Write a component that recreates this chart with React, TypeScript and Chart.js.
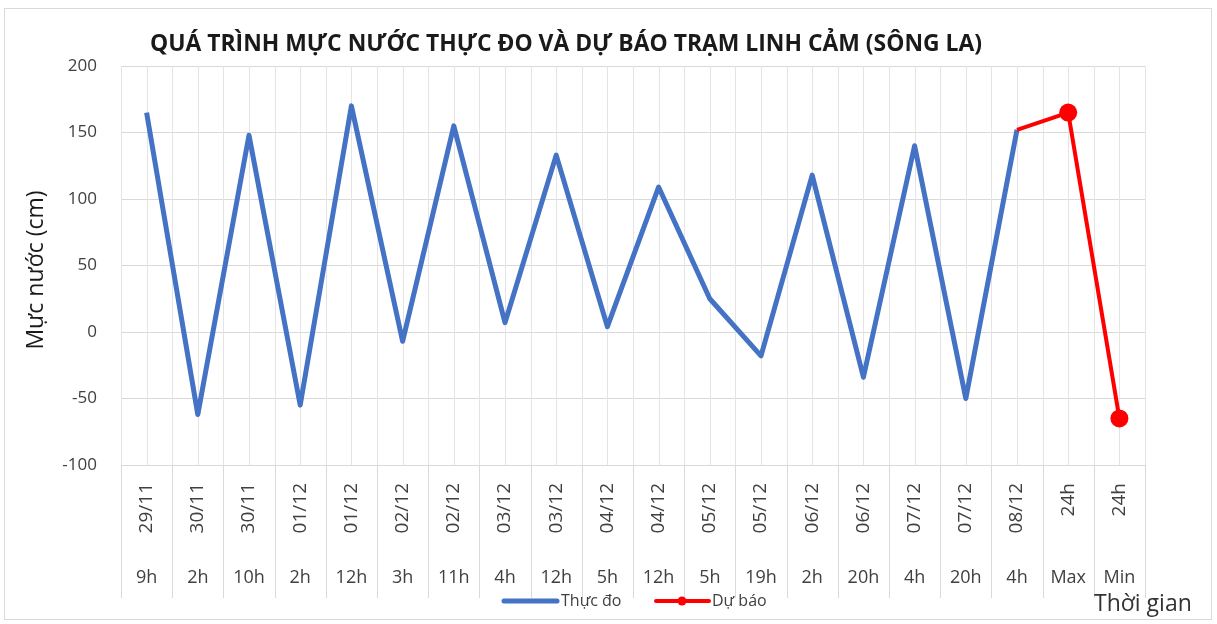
import { useEffect, useRef } from 'react';
import { Chart, registerables } from 'chart.js';

Chart.register(...registerables);

const chartTitle = 'QUÁ TRÌNH MỰC NƯỚC THỰC ĐO VÀ DỰ BÁO TRẠM LINH CẢM (SÔNG LA)';
const yAxisTitle = 'Mực nước (cm)';
const xAxisTitle = 'Thời gian';

const dateLabels = ['29/11', '30/11', '30/11', '01/12', '01/12', '02/12', '02/12', '03/12', '03/12', '04/12', '04/12', '05/12', '05/12', '06/12', '06/12', '07/12', '07/12', '08/12', '24h', '24h'];
const hourLabels = ['9h', '2h', '10h', '2h', '12h', '3h', '11h', '4h', '12h', '5h', '12h', '5h', '19h', '2h', '20h', '4h', '20h', '4h', 'Max', 'Min'];

const observedName = 'Thực đo';
const observed = [165, -62, 148, -55, 170, -7, 155, 7, 133, 4, 109, 25, -18, 118, -34, 140, -50, 152, null, null];

const forecastName = 'Dự báo';
const forecast = [null, null, null, null, null, null, null, null, null, null, null, null, null, null, null, null, null, 152, 165, -65];

const yMin = -100;
const yMax = 200;
const yStep = 50;

const BLUE = '#4472C4';
const RED = '#FF0000';
const FONT = '"Open Sans", "Noto Sans", "DejaVu Sans", sans-serif';
const TEXT = '#404040';

const overlay = {
  id: 'overlay',
  beforeDatasetsDraw(chart: any) {
    const { ctx, chartArea, scales } = chart;
    const x = scales.x;
    const half = (x.getPixelForValue(1) - x.getPixelForValue(0)) / 2;
    ctx.save();
    ctx.strokeStyle = '#e4e4e4';
    ctx.lineWidth = 1;
    for (let i = 0; i < dateLabels.length; i++) {
      const c = x.getPixelForValue(i);
      for (const px of [c - half, c]) {
        const xx = Math.round(px) + 0.5;
        ctx.beginPath();
        ctx.moveTo(xx, chartArea.top);
        ctx.lineTo(xx, chartArea.bottom);
        ctx.stroke();
      }
    }
    const xr = Math.round(x.getPixelForValue(dateLabels.length - 1) + half) + 0.5;
    ctx.beginPath();
    ctx.moveTo(xr, chartArea.top);
    ctx.lineTo(xr, chartArea.bottom);
    ctx.stroke();
    ctx.restore();
  },
  afterDraw(chart: any) {
    const { ctx, chartArea, scales } = chart;
    const x = scales.x;
    const half = (x.getPixelForValue(1) - x.getPixelForValue(0)) / 2;
    ctx.save();

    // outer border
    ctx.strokeStyle = '#d9d9d9';
    ctx.lineWidth = 1;
    ctx.strokeRect(4.5, 8.5, 1207, 611);

    // title
    ctx.fillStyle = '#1a1a1a';
    ctx.font = `bold 23px ${FONT}`;
    ctx.textAlign = 'left';
    ctx.textBaseline = 'middle';
    ctx.fillText(chartTitle, 150, 44, 832);

    // y-axis title
    ctx.save();
    ctx.translate(36, 270);
    ctx.rotate(-Math.PI / 2);
    ctx.font = `23px ${FONT}`;
    ctx.fillStyle = '#1a1a1a';
    ctx.textAlign = 'center';
    ctx.textBaseline = 'middle';
    ctx.fillText(yAxisTitle, 0, 0, 174);
    ctx.restore();

    // category separators in label area
    ctx.strokeStyle = '#d9d9d9';
    const sepBottom = 598;
    for (let i = 0; i <= dateLabels.length; i++) {
      const xx = Math.round(x.getPixelForValue(0) - half + i * 2 * half) + 0.5;
      ctx.beginPath();
      ctx.moveTo(xx, chartArea.bottom);
      ctx.lineTo(xx, sepBottom);
      ctx.stroke();
    }

    // date labels (rotated) and hour labels
    ctx.fillStyle = TEXT;
    for (let i = 0; i < dateLabels.length; i++) {
      const c = x.getPixelForValue(i);
      ctx.save();
      ctx.translate(c, 483);
      ctx.rotate(-Math.PI / 2);
      ctx.font = `19px ${FONT}`;
      ctx.textAlign = 'right';
      ctx.textBaseline = 'middle';
      ctx.fillText(dateLabels[i], 0, 0);
      ctx.restore();

      ctx.font = `18px ${FONT}`;
      ctx.textAlign = 'center';
      ctx.textBaseline = 'middle';
      ctx.fillText(hourLabels[i], c, 578, 2 * half - 4);
    }

    // legend
    const ly = 601;
    ctx.lineCap = 'round';
    ctx.strokeStyle = BLUE;
    ctx.lineWidth = 5;
    ctx.beginPath();
    ctx.moveTo(504, ly);
    ctx.lineTo(557, ly);
    ctx.stroke();
    ctx.strokeStyle = RED;
    ctx.lineWidth = 4;
    ctx.beginPath();
    ctx.moveTo(656, ly);
    ctx.lineTo(709, ly);
    ctx.stroke();
    ctx.fillStyle = RED;
    ctx.beginPath();
    ctx.arc(682, ly, 4.5, 0, Math.PI * 2);
    ctx.fill();
    ctx.fillStyle = TEXT;
    ctx.font = `16px ${FONT}`;
    ctx.textAlign = 'left';
    ctx.textBaseline = 'middle';
    ctx.fillText(observedName, 561, ly, 66);
    ctx.fillText(forecastName, 712, ly, 62);

    // x-axis title
    ctx.font = `23px ${FONT}`;
    ctx.fillStyle = '#333333';
    ctx.textAlign = 'left';
    ctx.fillText(xAxisTitle, 1094, 604, 100);

    ctx.restore();
  },
};

export default function App() {
  const canvasRef = useRef<HTMLCanvasElement | null>(null);

  useEffect(() => {
    const canvas = canvasRef.current;
    if (!canvas) return;
    const chart = new Chart(canvas, {
      type: 'line',
      data: {
        labels: dateLabels.map((d, i) => [d, hourLabels[i]]),
        datasets: [
          {
            label: forecastName,
            data: forecast,
            borderColor: RED,
            backgroundColor: RED,
            borderWidth: 4,
            pointRadius: hourLabels.map((h) => (h === 'Max' || h === 'Min' ? 9 : 0)),
            pointHoverRadius: 9,
            pointBorderWidth: 0,
            tension: 0,
            spanGaps: false,
          },
          {
            label: observedName,
            data: observed,
            borderColor: BLUE,
            backgroundColor: BLUE,
            borderWidth: 5,
            borderJoinStyle: 'round',
            pointRadius: 0,
            tension: 0,
          },
        ],
      },
      options: {
        animation: false,
        responsive: true,
        maintainAspectRatio: false,
        layout: { padding: { top: 66, right: 72, left: 0, bottom: 0 } },
        plugins: {
          legend: { display: false },
          title: { display: false },
          tooltip: { enabled: false },
        },
        scales: {
          x: {
            type: 'category',
            offset: true,
            grid: { display: false },
            border: { display: false },
            ticks: { display: false },
            afterFit: (s: any) => {
              s.height = 159;
            },
          },
          y: {
            min: yMin,
            max: yMax,
            ticks: {
              stepSize: yStep,
              color: TEXT,
              font: { family: FONT, size: 17 },
              padding: 24,
            },
            grid: { color: '#d9d9d9', drawTicks: false },
            border: { display: false },
            afterFit: (s: any) => {
              s.width = 121;
            },
          },
        },
      },
      plugins: [overlay],
    });
    return () => chart.destroy();
  }, []);

  return (
    <div style={{ position: 'fixed', left: 0, top: 0, width: 1217, height: 624, background: '#fff' }}>
      <canvas ref={canvasRef} />
    </div>
  );
}
